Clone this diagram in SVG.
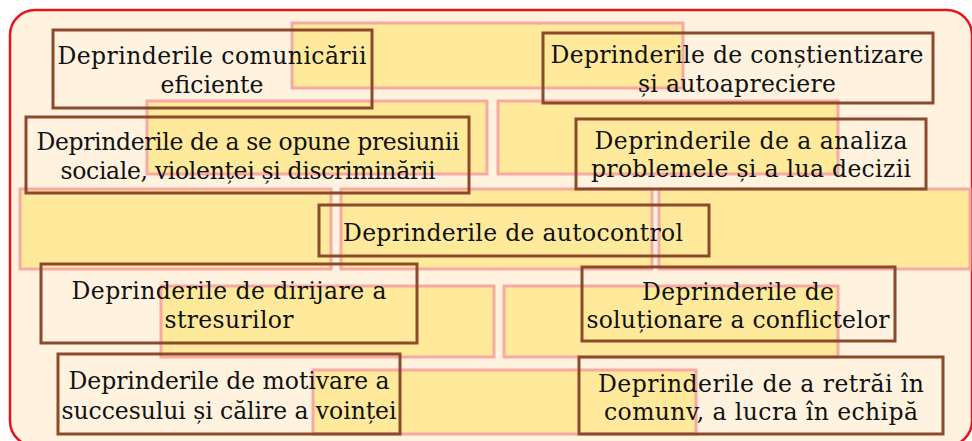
<svg xmlns="http://www.w3.org/2000/svg" width="972" height="441" viewBox="0 0 972 441">
<style>
.frame{fill:#FFF3E0;stroke:#E3141E;stroke-width:2.5}
.y{fill:#FFE99B;stroke:#F7A9A2;stroke-width:3}
.b{fill:none;stroke:#8B4A2B;stroke-width:3}
text{font-family:"DejaVu Serif","Liberation Serif",serif;font-size:23.5px;fill:#111;text-anchor:middle}
</style>
<rect class="frame" x="10" y="10" width="962" height="436" rx="25" ry="25"/>
<g id="bricks">
<rect class="y" x="292" y="23" width="391" height="65"/>
<rect class="y" x="147" y="101" width="340" height="73"/>
<rect class="y" x="498" y="101" width="340" height="73"/>
<rect class="y" x="20" y="189" width="311" height="80"/>
<rect class="y" x="341" y="189" width="311" height="80"/>
<rect class="y" x="659" y="189" width="311" height="80"/>
<rect class="y" x="161" y="286" width="333" height="71"/>
<rect class="y" x="504" y="286" width="334" height="71"/>
<rect class="y" x="313" y="370" width="383" height="64"/>
</g>
<g id="connectors"></g>
<g id="n1"><rect class="b" x="53" y="30" width="319" height="78"/>
<text x="212" y="64" textLength="309">Deprinderile comunicării</text><text x="212" y="93" textLength="103">eficiente</text></g>
<g id="n2"><rect class="b" x="26" y="117" width="443" height="76"/>
<text x="248" y="150" textLength="423">Deprinderile de a se opune presiunii</text><text x="248" y="179" textLength="375">sociale, violenței și discriminării</text></g>
<g id="n3"><rect class="b" x="543" y="33" width="390" height="70"/>
<text x="737" y="63" textLength="373">Deprinderile de conștientizare</text><text x="737" y="92" textLength="198">și autoapreciere</text></g>
<g id="n4"><rect class="b" x="576" y="119" width="350" height="70"/>
<text x="751" y="149" textLength="313">Deprinderile de a analiza</text><text x="751" y="177" textLength="320">problemele și a lua decizii</text></g>
<g id="n5"><rect class="b" x="319" y="205" width="390" height="51"/>
<text x="513" y="241" textLength="340">Deprinderile de autocontrol</text></g>
<g id="n6"><rect class="b" x="41" y="264" width="376" height="79"/>
<text x="229" y="299" textLength="315">Deprinderile de dirijare a</text><text x="229" y="328" textLength="129">stresurilor</text></g>
<g id="n7"><rect class="b" x="582" y="267" width="313" height="74"/>
<text x="738" y="300" textLength="192">Deprinderile de</text><text x="738" y="328" textLength="303">soluționare a conflictelor</text></g>
<g id="n8"><rect class="b" x="58" y="354" width="342" height="80"/>
<text x="229" y="389" textLength="321">Deprinderile de motivare a</text><text x="229" y="419" textLength="335">succesului și călire a voinței</text></g>
<g id="n9"><rect class="b" x="579" y="357" width="364" height="77"/>
<text x="761" y="392" textLength="326">Deprinderile de a retrăi în</text><text x="761" y="420" textLength="314">comunv, a lucra în echipă</text></g>
</svg>
